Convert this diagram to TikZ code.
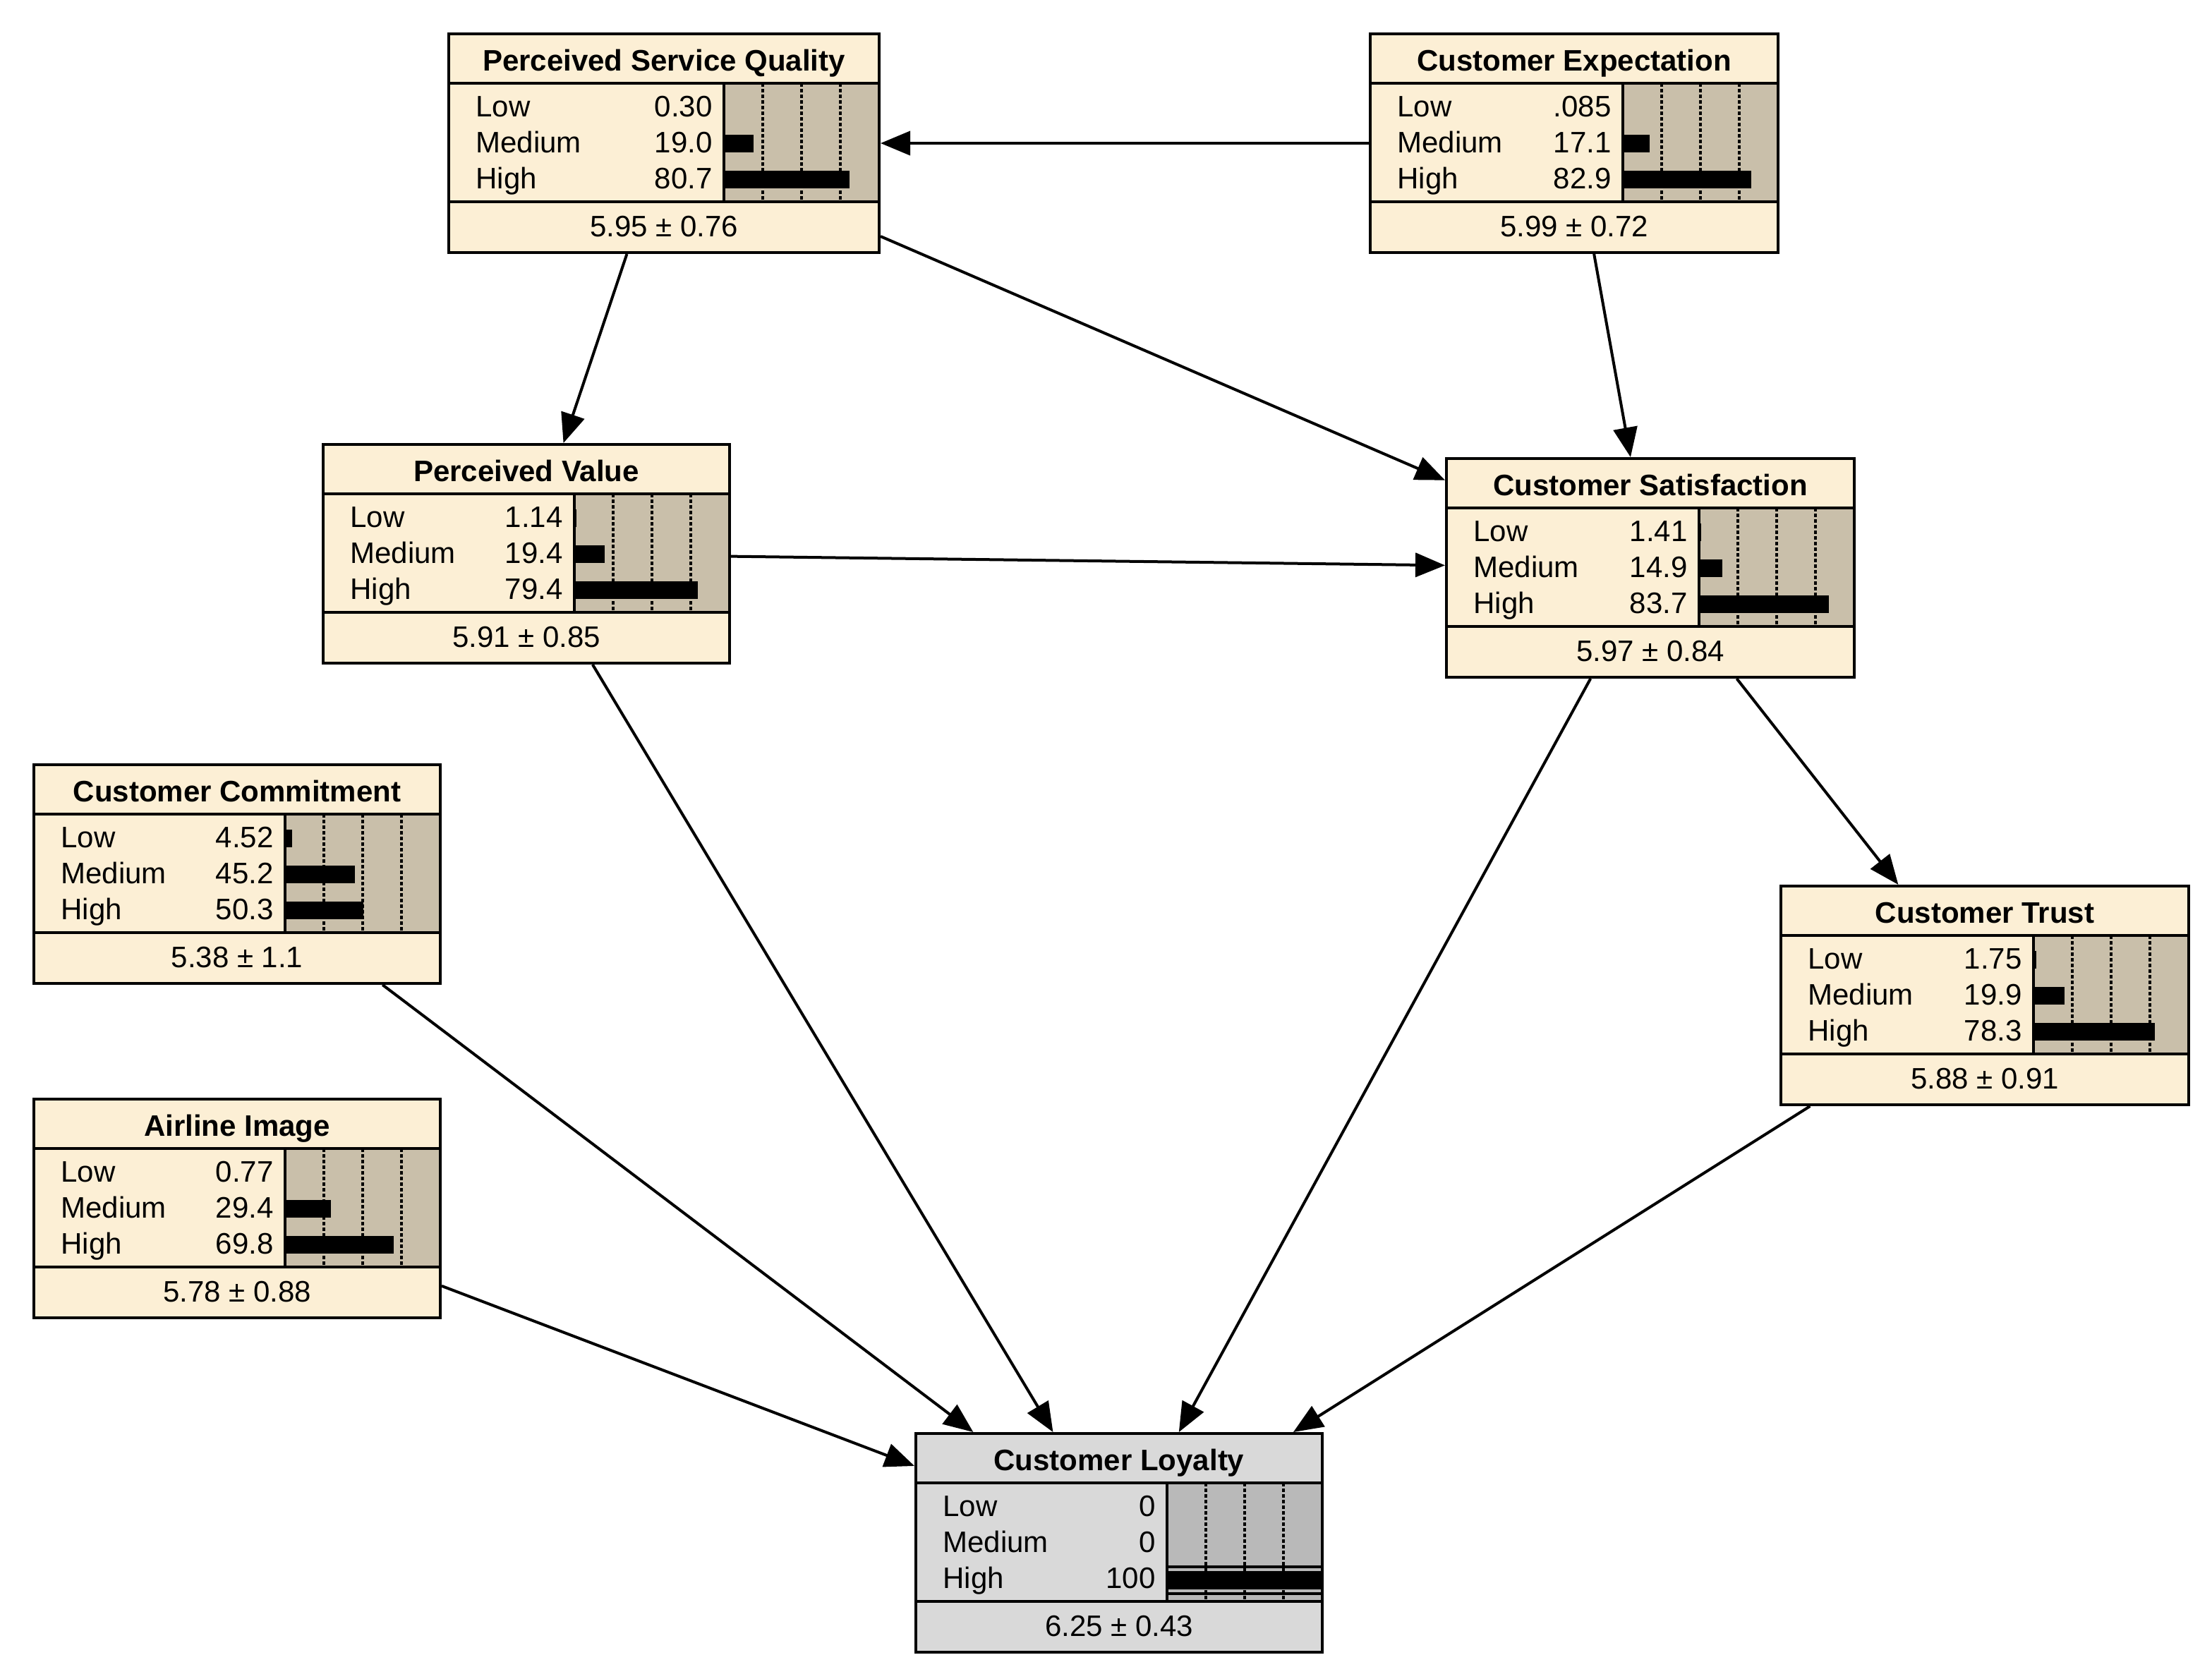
\documentclass[tikz,border=0pt]{standalone}
\usepackage{fontspec}
\setmainfont{Liberation Sans}
\usetikzlibrary{arrows.meta}
\definecolor{cream}{RGB}{252,239,213}
\definecolor{tanbar}{RGB}{201,191,170}
\definecolor{lgray}{RGB}{217,217,217}
\definecolor{mgray}{RGB}{185,185,185}
\tikzset{
  bnshape/.style={inner sep=0pt, outer sep=1pt, minimum height=155pt},
  arc/.style={line width=2pt, -{Triangle[length=21pt,width=17pt]}},
  ttltxt/.style={font=\fontsize{21}{21}\selectfont\bfseries, inner sep=0pt, anchor=base},
  lbltxt/.style={font=\fontsize{21}{21}\selectfont, inner sep=0pt, anchor=base west},
  valtxt/.style={lbltxt, anchor=base east},
  meantxt/.style={lbltxt, anchor=base},
  boxframe/.style={line width=2pt},
  dotgrid/.style={line width=1.6pt, dash pattern=on 2.5pt off 1.5pt},
}
% name, left, top, width, title, mean, node fill, bar fill
\newcommand\bnbox[8]{%
  \node[bnshape, fill=#7, minimum width=#4pt] (#1) at ({#2+#4/2},{#3+77.5}) {};
  \fill[#8] ({#2+#4-110},{#3+35}) rectangle ({#2+#4},{#3+119});
  \foreach \f in {27.5,55,82.5}
    \draw[dotgrid] ({#2+#4-110+\f},{#3+35}) -- ({#2+#4-110+\f},{#3+119});
  \node[ttltxt] (#1-title) at ({#2+#4/2},{#3+26}) {#5};
  \node[meantxt] (#1-mean) at ({#2+#4/2},{#3+143.5}) {#6};
}
% name, left, top, width, row, label, value, percent
\newcommand\bnrow[8]{%
  \pgfmathsetmacro\rowbase{#3+58.7+(#5-1)*25.4}
  \node[lbltxt] (#1-l#5) at ({#2+19},\rowbase) {#6};
  \node[valtxt] (#1-v#5) at ({#2+#4-118},\rowbase) {#7};
  \fill ({#2+#4-110},{\rowbase-12.6}) rectangle ({#2+#4-110+#8*1.1},\rowbase);
}
% left, top, width
\newcommand\bnframe[3]{%
  \draw[boxframe] (#1,{#2+35}) -- ({#1+#3},{#2+35});
  \draw[boxframe] (#1,{#2+119}) -- ({#1+#3},{#2+119});
  \draw[boxframe] ({#1+#3-110},{#2+35}) -- ({#1+#3-110},{#2+119});
  \draw[boxframe] (#1,#2) rectangle ({#1+#3},{#2+155});
}
\begin{document}
\begin{tikzpicture}[x=1pt,y=-1pt]
\useasboundingbox (0,0) rectangle (1567.5,1189.5);
% Perceived Service Quality
\bnbox{psq}{318}{24}{305}{Perceived Service Quality}{5.95 ± 0.76}{cream}{tanbar}
\bnrow{psq}{318}{24}{305}{1}{Low}{0.30}{0.30}
\bnrow{psq}{318}{24}{305}{2}{Medium}{19.0}{19.0}
\bnrow{psq}{318}{24}{305}{3}{High}{80.7}{80.7}
\bnframe{318}{24}{305}
% Customer Expectation
\bnbox{ce}{971}{24}{289}{Customer Expectation}{5.99 ± 0.72}{cream}{tanbar}
\bnrow{ce}{971}{24}{289}{1}{Low}{.085}{0.085}
\bnrow{ce}{971}{24}{289}{2}{Medium}{17.1}{17.1}
\bnrow{ce}{971}{24}{289}{3}{High}{82.9}{82.9}
\bnframe{971}{24}{289}
% Perceived Value
\bnbox{pv}{229}{315}{288}{Perceived Value}{5.91 ± 0.85}{cream}{tanbar}
\bnrow{pv}{229}{315}{288}{1}{Low}{1.14}{1.14}
\bnrow{pv}{229}{315}{288}{2}{Medium}{19.4}{19.4}
\bnrow{pv}{229}{315}{288}{3}{High}{79.4}{79.4}
\bnframe{229}{315}{288}
% Customer Satisfaction
\bnbox{cs}{1025}{325}{289}{Customer Satisfaction}{5.97 ± 0.84}{cream}{tanbar}
\bnrow{cs}{1025}{325}{289}{1}{Low}{1.41}{1.41}
\bnrow{cs}{1025}{325}{289}{2}{Medium}{14.9}{14.9}
\bnrow{cs}{1025}{325}{289}{3}{High}{83.7}{83.7}
\bnframe{1025}{325}{289}
% Customer Commitment
\bnbox{cc}{24}{542}{288}{Customer Commitment}{5.38 ± 1.1}{cream}{tanbar}
\bnrow{cc}{24}{542}{288}{1}{Low}{4.52}{4.52}
\bnrow{cc}{24}{542}{288}{2}{Medium}{45.2}{45.2}
\bnrow{cc}{24}{542}{288}{3}{High}{50.3}{50.3}
\bnframe{24}{542}{288}
% Customer Trust
\bnbox{ct}{1262}{628}{289}{Customer Trust}{5.88 ± 0.91}{cream}{tanbar}
\bnrow{ct}{1262}{628}{289}{1}{Low}{1.75}{1.75}
\bnrow{ct}{1262}{628}{289}{2}{Medium}{19.9}{19.9}
\bnrow{ct}{1262}{628}{289}{3}{High}{78.3}{78.3}
\bnframe{1262}{628}{289}
% Airline Image
\bnbox{ai}{24}{779}{288}{Airline Image}{5.78 ± 0.88}{cream}{tanbar}
\bnrow{ai}{24}{779}{288}{1}{Low}{0.77}{0.77}
\bnrow{ai}{24}{779}{288}{2}{Medium}{29.4}{29.4}
\bnrow{ai}{24}{779}{288}{3}{High}{69.8}{69.8}
\bnframe{24}{779}{288}
% Customer Loyalty
\bnbox{cl}{649}{1016}{288}{Customer Loyalty}{6.25 ± 0.43}{lgray}{mgray}
\bnrow{cl}{649}{1016}{288}{1}{Low}{0}{0}
\bnrow{cl}{649}{1016}{288}{2}{Medium}{0}{0}
\node[lbltxt] (cl-l3) at (668,1125.5) {High};
\node[valtxt] (cl-v3) at (819,1125.5) {100};
\fill (827,{1016+93.3}) rectangle (937,{1016+95.5});
\fill (827,{1016+97.3}) rectangle (937,{1016+110.5});
\fill (827,{1016+112.4}) rectangle (937,{1016+114.5});
\bnframe{649}{1016}{288}
% connectors
\draw[arc] (ce) -- (psq);
\draw[arc] (psq) -- (pv);
\draw[arc] (psq) -- (cs);
\draw[arc] (ce) -- (cs);
\draw[arc] (pv) -- (cs);
\draw[arc] (cs) -- (ct);
\draw[arc] (pv) -- (cl);
\draw[arc] (cs) -- (cl);
\draw[arc] (cc) -- (cl);
\draw[arc] (ai) -- (cl);
\draw[arc] (ct) -- (cl);
\end{tikzpicture}
\end{document}
